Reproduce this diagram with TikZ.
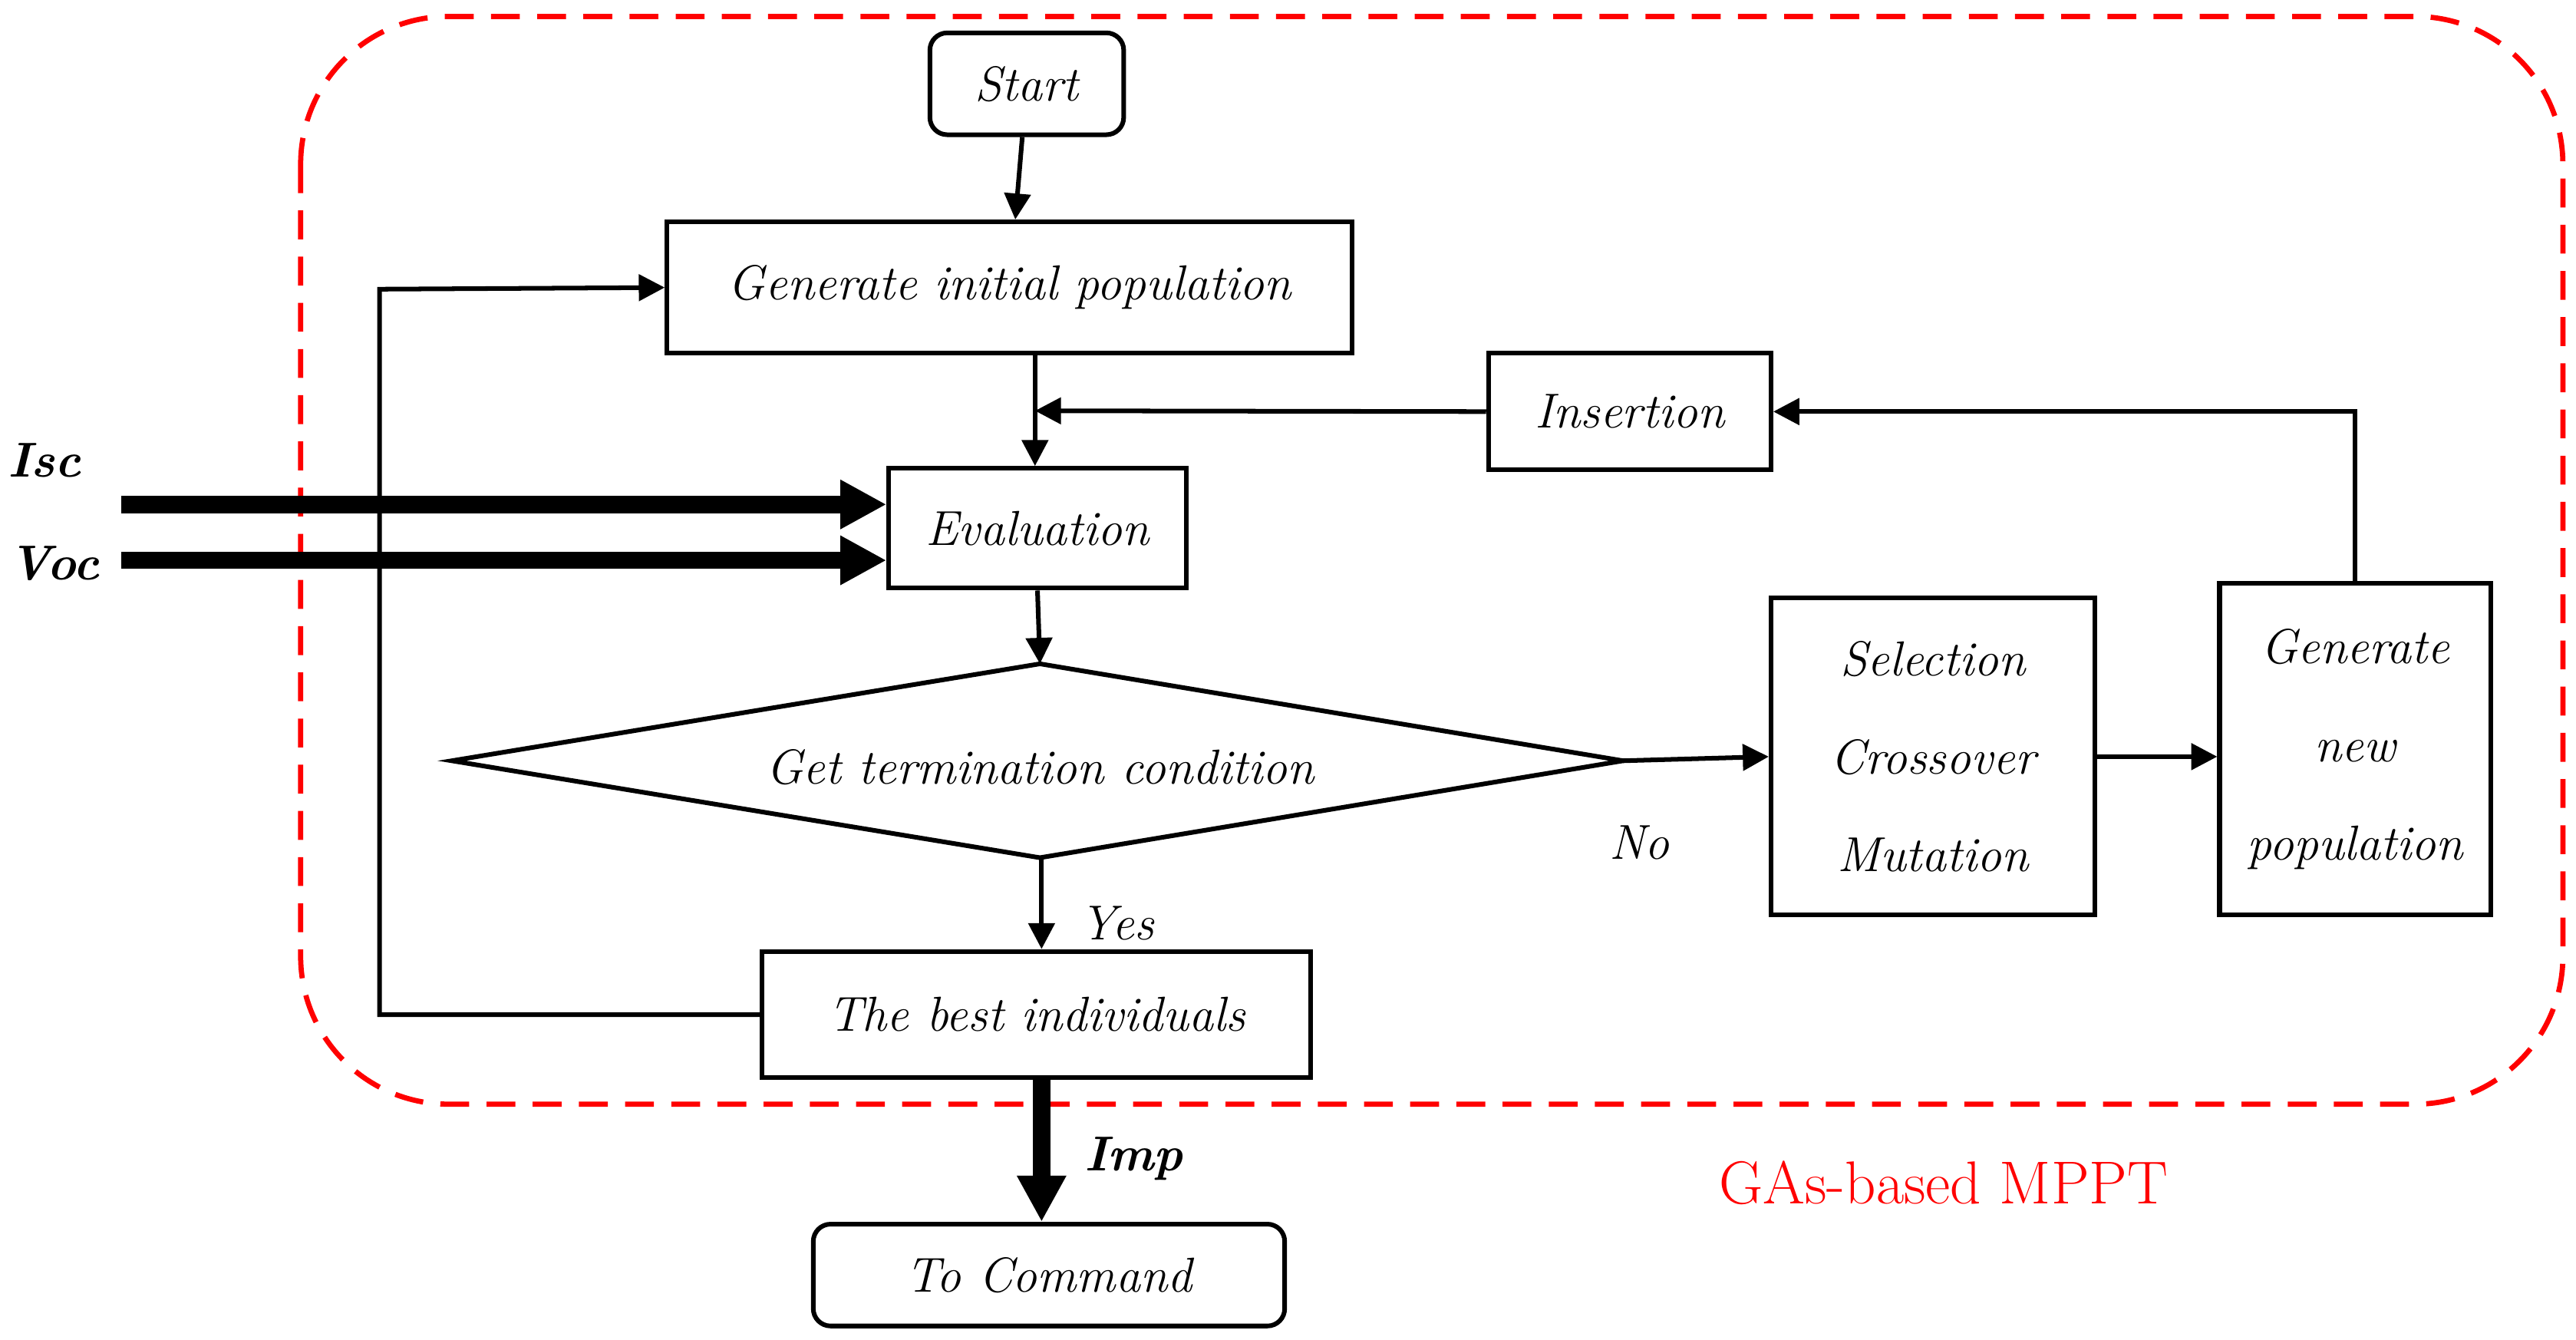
\documentclass[tikz,border=0pt]{standalone}
\usetikzlibrary{shapes.geometric,arrows.meta}
\begin{document}
\begin{tikzpicture}[x=0.02cm,y=-0.02cm,
  box/.style={draw,line width=1.6pt,minimum width=#1,inner sep=0pt,font=\fontsize{17}{20}\selectfont\itshape},
  ln/.style={line width=1.6pt},
  ar/.style={line width=1.6pt,-{Triangle[length=9pt,width=9pt]}},
  big/.style={line width=6pt,-{Triangle[length=16pt,width=16pt]}},
  lab/.style={font=\fontsize{17}{20}\selectfont\itshape},
  blab/.style={font=\fontsize{17}{20}\selectfont\bfseries\itshape}]
\useasboundingbox (0,0) rectangle (1568,815.5);
\draw[red,dashed,line width=1.8pt,dash pattern=on 10pt off 6pt,rounded corners=1.8cm] (183,10) rectangle (1560,672);
\node[box,rounded corners=6pt,minimum width=2.36cm,minimum height=1.24cm] (start) at (625,51) {Start};
\node[box,minimum width=8.34cm,minimum height=1.6cm] (gen) at (614.5,175) {Generate initial population};
\node[box,minimum width=3.44cm,minimum height=1.42cm] (ins) at (992,250.5) {Insertion};
\node[box,minimum width=3.62cm,minimum height=1.46cm] (eval) at (631.5,321.5) {Evaluation};
\draw[line width=1.6pt] (275,463) -- (633,404) -- (988,463) -- (633,522) -- cycle;
\coordinate (dl) at (275,463); \coordinate (dt) at (633,404);
\coordinate (dr) at (988,463); \coordinate (db) at (634,522);
\node[lab] (term) at (633,467) {Get termination condition};
\node[box,minimum width=3.94cm,minimum height=3.86cm,align=center] (sel) at (1176.5,460.5) {Selection\\[14pt]Crossover\\[14pt]Mutation};
\node[box,minimum width=3.3cm,minimum height=4.04cm,align=center] (new) at (1433.5,456) {Generate\\[14pt]new\\[14pt]population};
\node[lab] (yes) at (680,562) {Yes};
\node[box,fill=white,minimum width=6.68cm,minimum height=1.54cm] (best) at (631,617.5) {The best individuals};
\node[box,rounded corners=6pt,minimum width=5.74cm,minimum height=1.24cm] (cmd) at (638.5,776) {To Command};
\node[lab] (no) at (998,513) {No};
\node[blab] (isc) at (27,280) {Isc};
\node[blab] (voc) at (33,343) {Voc};
\node[blab] (imp) at (690,705) {Imp};
\node[red,font=\fontsize{21}{24}\selectfont] (title) at (1183,720) {GAs-based MPPT};
\coordinate (iscs) at (74,307); \coordinate (vocs) at (74,341);
\draw[big] (iscs) -- (eval.west|-iscs);
\draw[big] (vocs) -- (eval.west|-vocs);
\draw[big] (best.south-|db) -- (cmd.north-|db);
\draw[ar] (start) -- (gen);
\draw[ar] (gen.south-|630,0) -- (eval.north-|630,0);
\draw[ar] (ins.west) -- (630,250);
\draw[ar] (new.north) |- (ins.east);
\draw[ar] (eval.south) -- (dt);
\draw[ar] (dr) -- (sel.west);
\draw[ar] (sel.east) -- (new.west|-sel.east);
\draw[ar] (db) -- (best.north-|db);
\draw[ar] (best.west) -| (231,176) -- (gen.west);
\end{tikzpicture}
\end{document}
